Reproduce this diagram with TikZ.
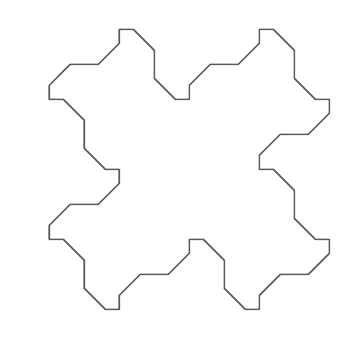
\documentclass[tikz,border=0pt]{standalone}
\usepackage{amsmath}

\begin{document}
\begin{tikzpicture}[x=0.25cm, y=-0.25cm,
    tile/.style={draw=black!65, line width=1.6pt, line join=round}]
    \useasboundingbox (-17.04,-4.19) rectangle (32.1,44.81);

    % left side, downwards
    \draw[tile] (0,0) -- (0,2) -- (-3,5) -- (-7,5) -- (-10,8) -- (-10,10)
      -- (-8,10) -- (-5,13) -- (-5,17) -- (-2,20) -- (0,20)
      -- (0,22) -- (-3,25) -- (-7,25) -- (-10,28) -- (-10,30)
      -- (-8,30) -- (-5,33) -- (-5,37) -- (-2,40) -- (0,40)
    % bottom side
      -- (0,38) -- (3,35) -- (7,35) -- (10,32) -- (10,30)
      -- (12,30) -- (15,33) -- (15,37) -- (18,40) -- (20,40)
    % right side, upwards
      -- (20,38) -- (23,35) -- (27,35) -- (30,32) -- (30,30)
      -- (28,30) -- (25,27) -- (25,23) -- (22,20) -- (20,20)
      -- (20,18) -- (23,15) -- (27,15) -- (30,12) -- (30,10)
      -- (28,10) -- (25,7) -- (25,3) -- (22,0) -- (20,0)
    % top side
      -- (20,2) -- (17,5) -- (13,5) -- (10,8) -- (10,10)
      -- (8,10) -- (5,7) -- (5,3) -- (2,0) -- cycle;

\end{tikzpicture}
\end{document}
